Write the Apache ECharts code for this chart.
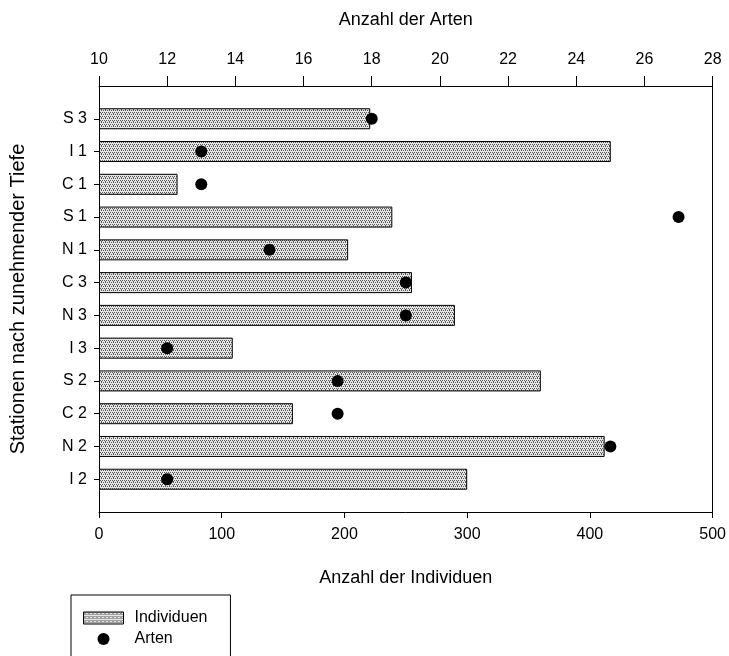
<!DOCTYPE html>
<html>
<head>
<meta charset="utf-8">
<script src="https://cdn.jsdelivr.net/npm/echarts@6/dist/echarts.min.js"></script>
<style>
  html, body { margin: 0; padding: 0; background: #fff; }
  #chart { width: 729px; height: 656px; }
</style>
</head>
<body>
<div id="chart"></div>
<script>
// Stations ordered by increasing depth (top to bottom)
const stations = ['S 3', 'I 1', 'C 1', 'S 1', 'N 1', 'C 3', 'N 3', 'I 3', 'S 2', 'C 2', 'N 2', 'I 2'];
// Number of individuals per station (bottom axis)
const individuen = [221, 417, 64, 239, 203, 255, 290, 109, 360, 158, 412, 300];
// Number of species per station (top axis)
const arten = [18, 13, 13, 27, 15, 19, 19, 12, 17, 17, 25, 12];

const individuenTicks = [0, 100, 200, 300, 400, 500];
const artenTicks = [10, 12, 14, 16, 18, 20, 22, 24, 26, 28];

const FONT = '"Liberation Sans", Arial, sans-serif';

// Stippled grey fill used for the bars
function stipple() {
  const c = document.createElement('canvas');
  c.width = 4; c.height = 4;
  const g = c.getContext('2d');
  g.fillStyle = '#e6e6e6';
  g.fillRect(0, 0, 4, 4);
  g.fillStyle = '#5a5a5a';
  [[0, 0], [2, 0], [1, 2], [3, 2], [1, 1]].forEach(p => g.fillRect(p[0], p[1], 1, 1));
  return c;
}
const pattern = { image: stipple(), repeat: 'repeat' };

// One empty slot above and below the stations
const cats = [''].concat(stations, ['']);
const pad = v => ['-'].concat(v, ['-']);

const chart = echarts.init(document.getElementById('chart'), null, { renderer: 'canvas' });
chart.setOption({
  backgroundColor: '#ffffff',
  animation: false,
  textStyle: { fontFamily: FONT, color: '#000' },
  grid: { left: 98, right: 16, top: 86, bottom: 144, containLabel: false },
  xAxis: [
    {
      type: 'value', position: 'bottom', min: individuenTicks[0], max: individuenTicks[individuenTicks.length - 1], interval: 100,
      name: 'Anzahl der Individuen', nameLocation: 'middle', nameGap: 57,
      nameTextStyle: { fontSize: 18, color: '#000', fontFamily: FONT },
      axisLine: { show: true, onZero: false, lineStyle: { color: '#000', width: 1 } },
      axisTick: { show: true, inside: false, length: 6, lineStyle: { color: '#000' } },
      axisLabel: { fontSize: 16, color: '#000', margin: 15, fontFamily: FONT },
      splitLine: { show: false }
    },
    {
      type: 'value', position: 'top', min: artenTicks[0], max: artenTicks[artenTicks.length - 1], interval: 2,
      name: 'Anzahl der Arten', nameLocation: 'middle', nameGap: 57,
      nameTextStyle: { fontSize: 18, color: '#000', fontFamily: FONT },
      axisLine: { show: true, onZero: false, lineStyle: { color: '#000', width: 1 } },
      axisTick: { show: true, inside: false, length: 10, lineStyle: { color: '#000' } },
      axisLabel: { fontSize: 16, color: '#000', margin: 18, fontFamily: FONT },
      splitLine: { show: false }
    }
  ],
  yAxis: [
    {
      type: 'category', data: cats, inverse: true, boundaryGap: false,
      name: 'Stationen nach zunehmender Tiefe', nameLocation: 'middle', nameGap: 71,
      nameTextStyle: { fontSize: 20, color: '#000', fontFamily: FONT },
      axisLine: { show: true, onZero: false, lineStyle: { color: '#000', width: 1 } },
      axisTick: { show: true, inside: false, length: 5, alignWithLabel: true, lineStyle: { color: '#000' },
                  interval: (i, v) => v !== '' },
      axisLabel: { fontSize: 16, color: '#000', margin: 12, fontFamily: FONT },
      splitLine: { show: false }
    },
    {
      type: 'category', data: cats, inverse: true, boundaryGap: false, position: 'right',
      axisLine: { show: true, onZero: false, lineStyle: { color: '#000', width: 1 } },
      axisTick: { show: false }, axisLabel: { show: false }, splitLine: { show: false }
    }
  ],
  legend: {
    orient: 'vertical', left: 71, top: 595, height: 90,
    padding: [15, 23, 12, 12],
    itemWidth: 40, itemHeight: 12, itemGap: 5,
    borderColor: '#000', borderWidth: 1, borderRadius: 0,
    textStyle: { fontSize: 16, color: '#000', fontFamily: FONT, padding: [0, 0, 0, 6] },
    data: [
      { name: 'Individuen', icon: 'rect', itemStyle: { borderWidth: 1, borderColor: '#000' } },
      { name: 'Arten', icon: 'circle' }
    ]
  },
  series: [
    {
      name: 'Individuen', type: 'bar', xAxisIndex: 0, yAxisIndex: 0,
      data: pad(individuen), barWidth: 21,
      itemStyle: { color: pattern, borderColor: '#000', borderWidth: 1 }
    },
    {
      name: 'Arten', type: 'scatter', xAxisIndex: 1, yAxisIndex: 0,
      data: pad(arten), symbol: 'circle', symbolSize: 12,
      itemStyle: { color: '#000', opacity: 1 }
    }
  ]
});
</script>
</body>
</html>
